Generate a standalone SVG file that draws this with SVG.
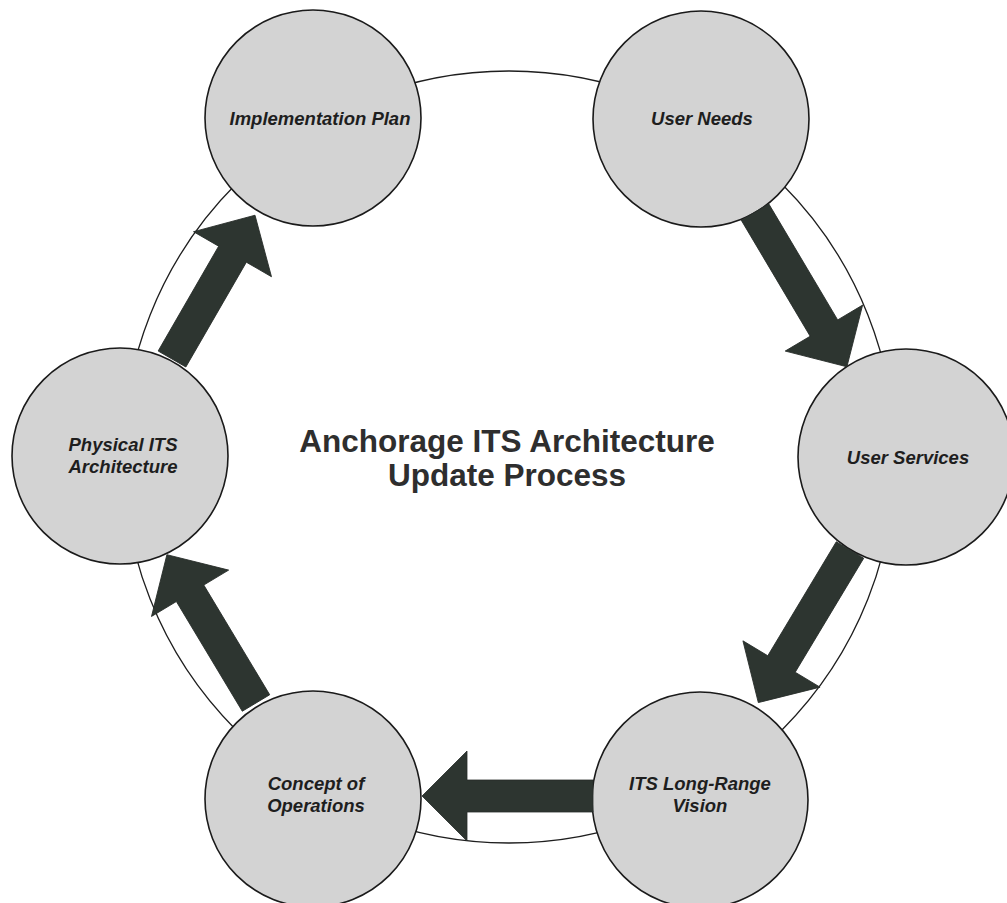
<svg xmlns="http://www.w3.org/2000/svg" width="1007" height="903" viewBox="0 0 1007 903">
  <style>
    .ring { fill: none; stroke: #1e1e1e; stroke-width: 1.3; }
    .node { fill: #d3d3d3; stroke: #1a1a1a; stroke-width: 1.6; }
    .label { font-family: "Liberation Sans", Arial, sans-serif; font-size: 18.5px; font-weight: bold; font-style: italic; fill: #1e1e1e; text-anchor: middle; }
    .title { font-family: "Liberation Sans", Arial, sans-serif; font-size: 31.5px; font-weight: bold; fill: #2e2e2e; text-anchor: middle; }
    .arrow { fill: #2d3530; stroke: #262c28; stroke-width: 0.8; stroke-linejoin: miter; }
  </style>

  <rect width="1007" height="903" fill="#ffffff"/>

  <!-- cycle ring behind the nodes -->
  <circle class="ring" cx="509" cy="457" r="386"/>

  <g id="node-implementation-plan">
    <circle class="node" cx="313" cy="118" r="108"/>
    <text class="label" x="320" y="125">Implementation Plan</text>
  </g>

  <g id="node-user-needs">
    <circle class="node" cx="701" cy="119" r="108"/>
    <text class="label" x="702" y="125">User Needs</text>
  </g>

  <g id="node-user-services">
    <circle class="node" cx="906" cy="457" r="108"/>
    <text class="label" x="908" y="464">User Services</text>
  </g>

  <g id="node-its-long-range-vision">
    <circle class="node" cx="700" cy="800" r="108"/>
    <text class="label" x="700" y="790">ITS Long-Range</text>
    <text class="label" x="700" y="812">Vision</text>
  </g>

  <g id="node-concept-of-operations">
    <circle class="node" cx="313" cy="799" r="108"/>
    <text class="label" x="316" y="790">Concept of</text>
    <text class="label" x="316" y="812">Operations</text>
  </g>

  <g id="node-physical-its-architecture">
    <circle class="node" cx="120" cy="456" r="108"/>
    <text class="label" x="123" y="451">Physical ITS</text>
    <text class="label" x="123" y="473">Architecture</text>
  </g>

  <!-- block arrows: tail at origin, pointing along +x -->
  <g id="connectors">
    <polygon class="arrow" transform="translate(755,212) rotate(59.3)" points="0,-16 135,-16 135,-45 180,0 135,45 135,16 0,16"/>
    <polygon class="arrow" transform="translate(850,550) rotate(121)" points="0,-16 133,-16 133,-45 178,0 133,45 133,16 0,16"/>
    <polygon class="arrow" transform="translate(593,796) rotate(180)" points="0,-16 126,-16 126,-45 171,0 126,45 126,16 0,16"/>
    <polygon class="arrow" transform="translate(256,703) rotate(-121)" points="0,-16 128,-16 128,-45 173,0 128,45 128,16 0,16"/>
    <polygon class="arrow" transform="translate(172,359) rotate(-60)" points="0,-16 121,-16 121,-45 166,0 121,45 121,16 0,16"/>
  </g>

  <g id="title">
    <text class="title" x="507" y="452">Anchorage ITS Architecture</text>
    <text class="title" x="507" y="486">Update Process</text>
  </g>
</svg>
